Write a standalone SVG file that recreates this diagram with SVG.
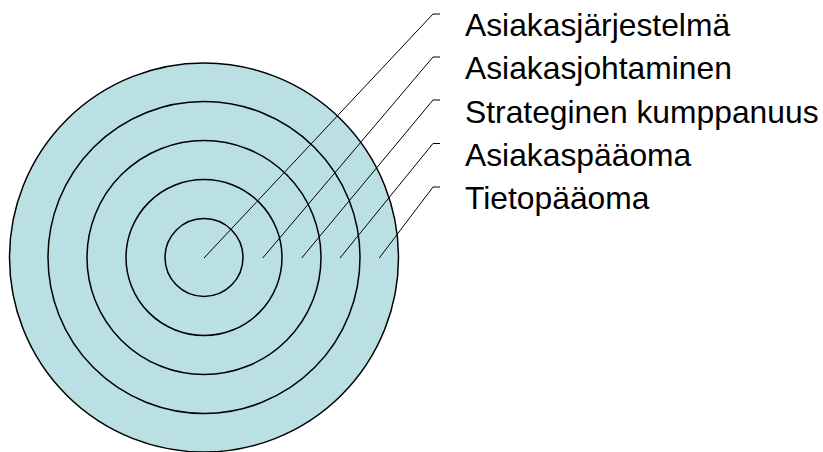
<svg xmlns="http://www.w3.org/2000/svg" width="823" height="452" viewBox="0 0 823 452">
<style>
.ring{fill:none;stroke:#000;stroke-width:1.5}
.lead{fill:none;stroke:#000;stroke-width:1}
.lbl{font-family:"Liberation Sans",Arial,sans-serif;font-size:31.8px;fill:#000}
</style>
<rect width="823" height="452" fill="#fff"/>
<g id="outer">
<circle cx="204" cy="257.5" r="194.5" fill="#BBE0E3" stroke="#000" stroke-width="1.5"/>
</g>
<g id="ring4"><circle class="ring" cx="204" cy="257.5" r="156"/></g>
<g id="ring3"><circle class="ring" cx="204" cy="257.5" r="117"/></g>
<g id="ring2"><circle class="ring" cx="204" cy="257.5" r="78"/></g>
<g id="ring1"><circle class="ring" cx="204" cy="257.5" r="39"/></g>
<g id="connectors">
<polyline class="lead" points="204,258 433,14 440,14"/>
<polyline class="lead" points="262.7,258 433,57 440,57"/>
<polyline class="lead" points="301.7,258 433,100 440,100"/>
<polyline class="lead" points="340,258 433,143.5 440,143.5"/>
<polyline class="lead" points="379.3,258 433,187 440,187"/>
</g>
<g id="label1"><text class="lbl" x="465" y="36">Asiakasjärjestelmä</text></g>
<g id="label2"><text class="lbl" x="465" y="79">Asiakasjohtaminen</text></g>
<g id="label3"><text class="lbl" x="465" y="122.5">Strateginen kumppanuus</text></g>
<g id="label4"><text class="lbl" x="465" y="166">Asiakaspääoma</text></g>
<g id="label5"><text class="lbl" x="465" y="209">Tietopääoma</text></g>
</svg>
